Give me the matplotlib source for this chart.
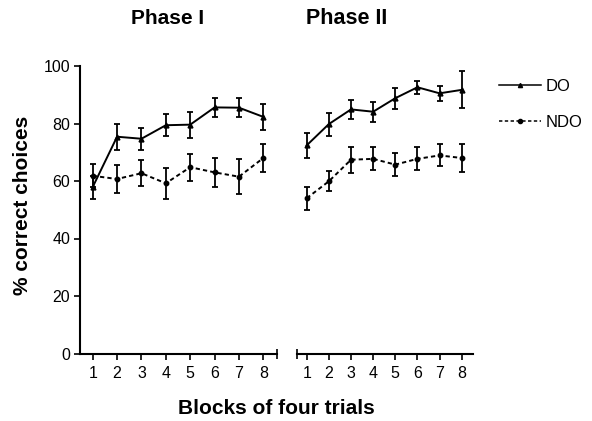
import matplotlib
matplotlib.use("Agg")
import matplotlib.pyplot as plt
from matplotlib.lines import Line2D

plt.rcParams['font.family'] = ['Liberation Sans', 'DejaVu Sans']

blocks = [1, 2, 3, 4, 5, 6, 7, 8]

# Phase I
do1 = [57.9, 75.4, 74.7, 79.4, 79.6, 85.6, 85.5, 82.3]
do1_err = [4.0, 4.5, 3.8, 3.8, 4.5, 3.2, 3.2, 4.5]
ndo1 = [61.8, 60.7, 62.7, 59.2, 64.8, 63.0, 61.5, 68.0]
ndo1_err = [4.0, 5.0, 4.5, 5.3, 4.7, 5.0, 6.0, 4.7]

# Phase II
do2 = [72.4, 79.8, 84.9, 84.1, 88.8, 92.6, 90.5, 91.7]
do2_err = [4.4, 4.0, 3.2, 3.5, 3.7, 2.2, 2.6, 6.4]
ndo2 = [54.0, 59.9, 67.4, 67.7, 65.7, 67.7, 68.9, 68.0]
ndo2_err = [4.0, 3.5, 4.5, 4.0, 4.0, 4.0, 3.8, 5.0]

W, H = 592, 421
fig = plt.figure(figsize=(W / 100, H / 100), dpi=100)

ax1 = fig.add_axes([80 / W, (H - 353.5) / H, 197 / W, 287.5 / H])
ax2 = fig.add_axes([296.7 / W, (H - 353.5) / H, 176.3 / W, 287.5 / H])

dash = (0, (2.2, 1.6))
lw = 1.4

for ax, do, do_err, ndo, ndo_err in [(ax1, do1, do1_err, ndo1, ndo1_err),
                                     (ax2, do2, do2_err, ndo2, ndo2_err)]:
    ax.errorbar(blocks, ndo, yerr=ndo_err, color='black', lw=lw, ls=dash,
                marker='o', ms=3.2, capsize=2.5, elinewidth=1.3, capthick=1.3)
    ax.errorbar(blocks, do, yerr=do_err, color='black', lw=lw, ls='-',
                marker='^', ms=3.5, capsize=2.5, elinewidth=1.3, capthick=1.3)
    ax.set_ylim(0, 100)
    ax.set_xticks(blocks)
    ax.spines['top'].set_visible(False)
    ax.spines['right'].set_visible(False)
    ax.spines['bottom'].set_linewidth(1.5)
    ax.spines['left'].set_linewidth(1.5)
    ax.tick_params(axis='both', direction='out', length=4, width=1.2,
                   labelsize=11.5, pad=3)
    ax.tick_params(axis='x', pad=5)

ax1.set_xlim(0.479, 8.56)
ax2.set_xlim(0.548, 8.51)
ax1.set_yticks([0, 20, 40, 60, 80, 100])

# end ticks on the broken axis
ax1.set_xticks([8.56], minor=True)
ax2.set_xticks([0.548], minor=True)
for ax in (ax1, ax2):
    ax.tick_params(axis='x', which='minor', direction='inout', length=7,
                   width=1.2)

ax2.spines['left'].set_visible(False)
ax2.tick_params(axis='y', left=False, labelleft=False)

fig.text(168 / W, 1 - 18 / H, 'Phase I', ha='center', va='center',
         fontsize=15, fontweight='bold')
fig.text(347 / W, 1 - 18 / H, 'Phase II', ha='center', va='center',
         fontsize=15.5, fontweight='bold')
fig.text(23 / W, 1 - 205 / H, '% correct choices', ha='center',
         va='center', rotation=90, fontsize=15, fontweight='bold')
fig.text(276 / W, 1 - 409 / H, 'Blocks of four trials', ha='center',
         va='center', fontsize=15, fontweight='bold')

handles = [Line2D([], [], color='black', lw=1.1, ls='-', marker='^', ms=3),
           Line2D([], [], color='black', lw=1.1, ls=dash, marker='o', ms=3)]
fig.legend(handles, ['DO', 'NDO'], loc='upper left',
           bbox_to_anchor=(499 / W, 1 - 79 / H), frameon=False,
           fontsize=12, handlelength=2.5, handletextpad=0.3,
           labelspacing=1.25, borderpad=0, borderaxespad=0)

fig.savefig('out.png', dpi=100)
